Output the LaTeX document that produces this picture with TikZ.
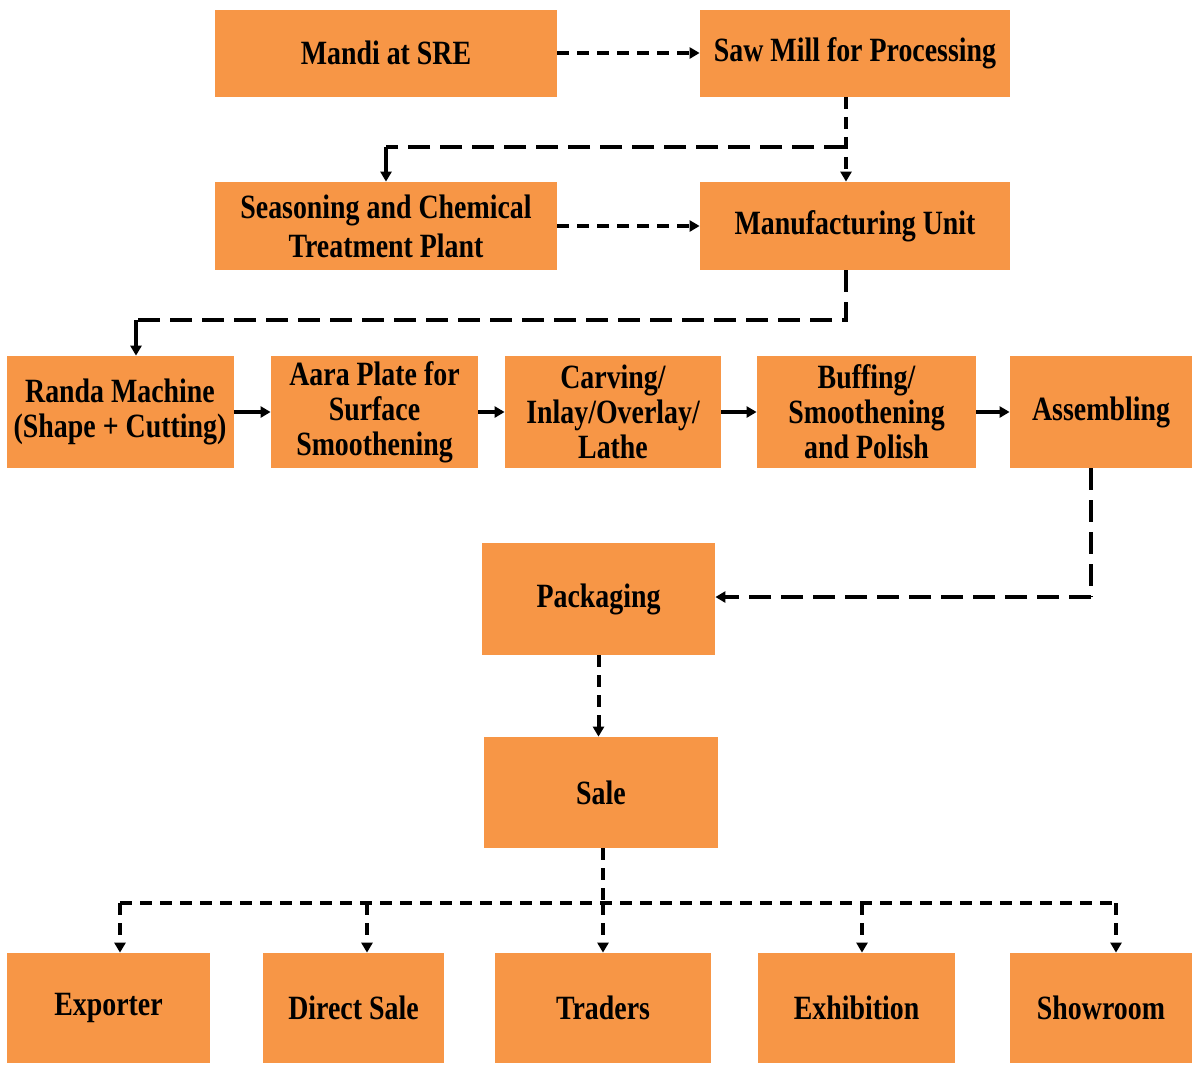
\documentclass[tikz,border=0pt]{standalone}
\usepackage{fontspec}
\usepackage{tikz}
\usetikzlibrary{arrows.meta}
\newfontfamily\boxfont[FakeStretch=0.82]{Liberation Serif}
\definecolor{boxorange}{RGB}{247,150,70}

\tikzset{
  stage/.style={fill=boxorange, draw=none, inner sep=0pt, align=center,
    font=\boxfont\bfseries\fontsize{17}{17.5}\selectfont},
  flow/.style={line width=2pt, dash pattern=on 6pt off 4pt, -{Triangle[length=5pt,width=5.5pt]}},
  trunk/.style={line width=2pt, dash pattern=on 6pt off 4pt},
  longtrunk/.style={line width=2pt, dash pattern=on 11pt off 5pt},
  link/.style={line width=2pt, -{Triangle[length=5pt,width=5.5pt]}}
}

\begin{document}
\begin{tikzpicture}[x=0.5pt,y=-0.5pt]
\useasboundingbox (0,0) rectangle (1192,1067);
\clip (0,0) rectangle (1192,1067);

% first two rows
\node [stage, minimum width=171pt, minimum height=43.5pt] (mandi) at (386,53) {Mandi at SRE};
\node [stage, minimum width=155pt, minimum height=43.5pt] (saw) at (855,53) {Saw Mill for Processing};
\node [stage, minimum width=171pt, minimum height=44pt] (seas) at (386,226) {Seasoning and Chemical\\[2pt]Treatment Plant};
\node [stage, minimum width=155pt, minimum height=44pt] (manu) at (855,226) {Manufacturing Unit};

% process row
\node [stage, minimum width=113.5pt, minimum height=56pt] (randa) at (120,412) {Randa Machine\\(Shape + Cutting)};
\node [stage, minimum width=103.5pt, minimum height=56pt] (aara) at (374.5,412) {Aara Plate for\\Surface\\Smoothening};
\node [stage, minimum width=108pt, minimum height=56pt] (carv) at (613,412) {Carving/\\Inlay/Overlay/\\Lathe};
\node [stage, minimum width=109.5pt, minimum height=56pt] (buff) at (866.5,412) {Buffing/\\Smoothening\\and Polish};
\node [stage, minimum width=91pt, minimum height=56pt] (assem) at (1101,412) {Assembling};

\node [stage, minimum width=116.5pt, minimum height=56pt] (pack) at (598.5,599) {Packaging};
\node [stage, minimum width=117pt, minimum height=55.5pt] (sale) at (601,792.5) {Sale};

% outlets
\node [stage, minimum width=101.5pt, minimum height=55pt] (expo) at (108.5,1008) {Exporter};
\node [stage, minimum width=90.5pt, minimum height=55pt] (direct) at (353.5,1008) {Direct Sale};
\node [stage, minimum width=108pt, minimum height=55pt] (traders) at (603,1008) {Traders};
\node [stage, minimum width=98.5pt, minimum height=55pt] (exhib) at (856.5,1008) {Exhibition};
\node [stage, minimum width=91pt, minimum height=55pt] (show) at (1101,1008) {Showroom};

\coordinate (split) at (846,147);
\coordinate (bend) at (846,320);
\coordinate (drop) at (136,320);
\coordinate (turn) at (1091,597);
\coordinate (bus) at (603,903);
\coordinate (d1) at (120,903);
\coordinate (d2) at (367,903);
\coordinate (d3) at (603,903);
\coordinate (d4) at (862,903);
\coordinate (d5) at (1116,903);

\draw [flow] (mandi.east) -- (saw.west |- mandi.east);
\draw [flow] (saw.south -| split) -- (manu.north -| split);
\draw [longtrunk] (split) -- (split -| seas.north);
\draw [link] (split -| seas.north) -- (seas.north);
\draw [flow] (seas.east) -- (manu.west |- seas.east);

\draw [longtrunk] (manu.south -| bend) -- (bend) -- (drop);
\draw [link] (drop) -- (drop |- randa.north);

\draw [link] (randa.east) -- (aara.west);
\draw [link] (aara.east) -- (carv.west);
\draw [link] (carv.east) -- (buff.west);
\draw [link] (buff.east) -- (assem.west);

\draw [longtrunk] (assem.south -| turn) -- (turn);
\draw [flow, dash pattern=on 11pt off 5pt] (turn) -- (turn -| pack.east);
\draw [flow] (pack.south) -- (pack.south |- sale.north);

\draw [trunk] (sale.south -| bus) -- (bus);
\draw [trunk] (d1) -- (d5);
\foreach \d/\b in {d1/expo, d2/direct, d3/traders, d4/exhib, d5/show}{
  \draw [flow] (\d) -- (\d |- \b.north);
}

\end{tikzpicture}
\end{document}
